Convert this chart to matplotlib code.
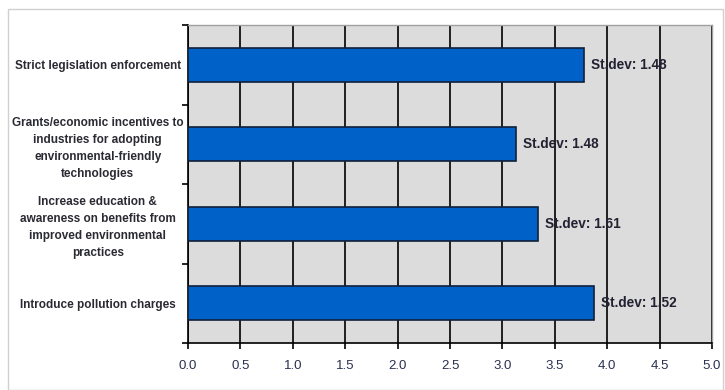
import matplotlib
matplotlib.use("Agg")
import matplotlib.pyplot as plt
from matplotlib.patches import Rectangle

categories = [
    "Strict legislation enforcement",
    "Grants/economic incentives to\nindustries for adopting\nenvironmental-friendly\ntechnologies",
    "Increase education &\nawareness on benefits from\nimproved environmental\npractices",
    "Introduce pollution charges",
]
means = [3.78, 3.13, 3.34, 3.87]
stdevs = [1.48, 1.48, 1.61, 1.52]
xticks = [0.0, 0.5, 1.0, 1.5, 2.0, 2.5, 3.0, 3.5, 4.0, 4.5, 5.0]

plt.rcParams["font.family"] = ["Liberation Sans", "DejaVu Sans"]

fig = plt.figure(figsize=(7.25, 3.9), dpi=100)
fig.patches.append(Rectangle((8 / 725, 0.0), 715 / 725, 1 - 9 / 390,
                             transform=fig.transFigure, fill=False,
                             edgecolor="#d0d0d0", linewidth=1.0))

ax = fig.add_axes([188 / 725, 1 - 343 / 390, 524 / 725, 318 / 390])
ax.set_facecolor("#dcdcdc")

n = len(categories)
ypos = list(range(n))
ax.barh(ypos, means, height=0.43, color="#0061c8", edgecolor="#10203a",
        linewidth=1.2, zorder=3)

for y, m, s in zip(ypos, means, stdevs):
    ax.text(m + 0.07, y, f"St.dev: {s:.2f}", va="center", ha="left",
            fontsize=9.8, fontweight="bold", color="#222233", zorder=4)

ax.set_xlim(0, 5)
ax.set_ylim(n - 0.5, -0.5)
ax.set_xticks(xticks)
ax.set_xticklabels([f"{t:.1f}" for t in xticks], fontsize=9.5,
                   color="#2a3050")
ax.set_yticks(ypos)
ax.set_yticklabels(categories, fontsize=8.5, fontweight="bold",
                   color="#2a2a33", linespacing=1.55, ha="center")
ax.tick_params(axis="y", length=0, pad=65)
ax.set_yticks([i - 0.5 for i in range(n + 1)], minor=True)
ax.tick_params(axis="y", which="minor", length=4, width=1.2, color="black")
ax.tick_params(axis="x", length=4, width=1.2, color="black", pad=8)

ax.grid(axis="x", color="black", linewidth=1.2, zorder=1)
ax.set_axisbelow(True)

for side in ("top", "right"):
    ax.spines[side].set_color("#a0a0a0")
    ax.spines[side].set_linewidth(1.0)
for side in ("left", "bottom"):
    ax.spines[side].set_color("black")
    ax.spines[side].set_linewidth(1.2)

fig.savefig("out.png", dpi=100)
